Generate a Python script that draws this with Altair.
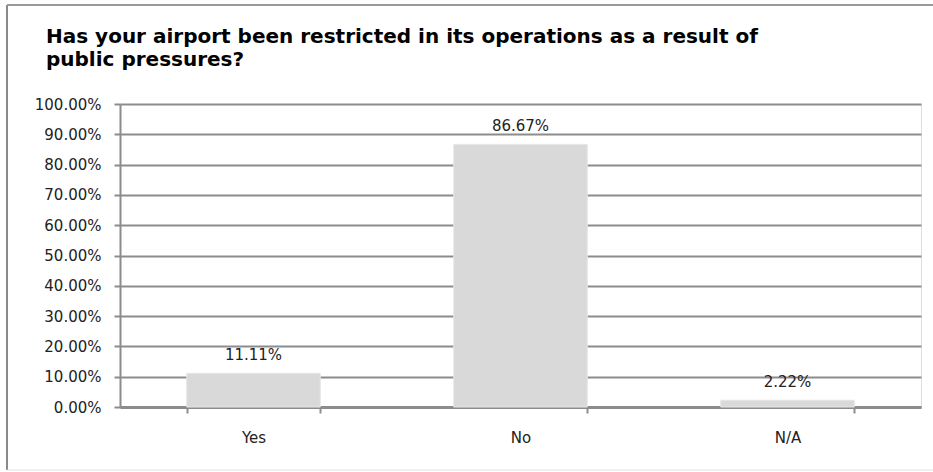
import altair as alt
import pandas as pd

categories = ["Yes", "No", "N/A"]
values = [0.1111, 0.8667, 0.0222]
labels = ["11.11%", "86.67%", "2.22%"]
y_ticks = [0.0, 0.1, 0.2, 0.3, 0.4, 0.5, 0.6, 0.7, 0.8, 0.9, 1.0]
title_lines = ["Has your airport been restricted in its operations as a result of",
               "public pressures?"]

df = pd.DataFrame({"cat": categories, "val": values, "lab": labels})
title_df = pd.DataFrame({"t": ["\n".join(title_lines)]})

FONT = "DejaVu Sans"

x_enc = alt.X("cat:N", sort=categories, title=None,
              scale=alt.Scale(paddingInner=0.5, paddingOuter=0.25),
              axis=alt.Axis(labelAngle=0, labelFont=FONT, labelFontSize=15,
                            labelColor="#222222", labelPadding=17,
                            tickBand="extent", tickSize=6, tickColor="#8c8c8c",
                            tickWidth=2, domainColor="#8c8c8c", domainWidth=3,
                            grid=False))
y_enc = alt.Y("val:Q", title=None,
              scale=alt.Scale(domain=[0, 1], nice=False),
              axis=alt.Axis(values=y_ticks, format=".2%", labelFont=FONT,
                            labelFontSize=15, labelColor="#222222",
                            labelOverlap=False,
                            labelPadding=13, tickSize=6, tickColor="#8c8c8c",
                            tickWidth=2, domainColor="#8c8c8c", domainWidth=2,
                            gridColor="#8c8c8c", gridWidth=2, grid=True))

bars = alt.Chart(df).mark_bar(color="#d9d9d9", stroke="#e6e6e6",
                              strokeWidth=1).encode(x=x_enc, y=y_enc)

texts = alt.Chart(df).mark_text(font=FONT, fontSize=15, color="#222222",
                                baseline="alphabetic", dy=-13).encode(
    x=x_enc, y=y_enc, text="lab:N")

title = alt.Chart(title_df).mark_text(
    font=FONT, fontSize=20, fontWeight="bold", color="#000000",
    align="left", baseline="alphabetic", lineBreak="\n", lineHeight=23).encode(
    x=alt.value(-74), y=alt.value(-61), text="t:N")

frame_left = alt.Chart(title_df).mark_rule(color="#8a8a8a", strokeWidth=2).encode(
    x=alt.value(-113), y=alt.value(-99), y2=alt.value(366))
frame_top = alt.Chart(title_df).mark_rule(color="#9a9a9a", strokeWidth=2).encode(
    x=alt.value(-113), x2=alt.value(830), y=alt.value(-99))
frame_bottom = alt.Chart(title_df).mark_rule(color="#e0e0e0", strokeWidth=1).encode(
    x=alt.value(-113), x2=alt.value(830), y=alt.value(366))

chart = alt.layer(bars, texts, title, frame_left, frame_top, frame_bottom).properties(
    width=801, height=303,
    autosize=alt.AutoSizeParams(type="none"),
    padding={"left": 120, "top": 104, "right": 12, "bottom": 65},
).configure_view(stroke=None).configure(background="white")

chart.save("out.html", embed_options={"renderer": "svg", "actions": False})
